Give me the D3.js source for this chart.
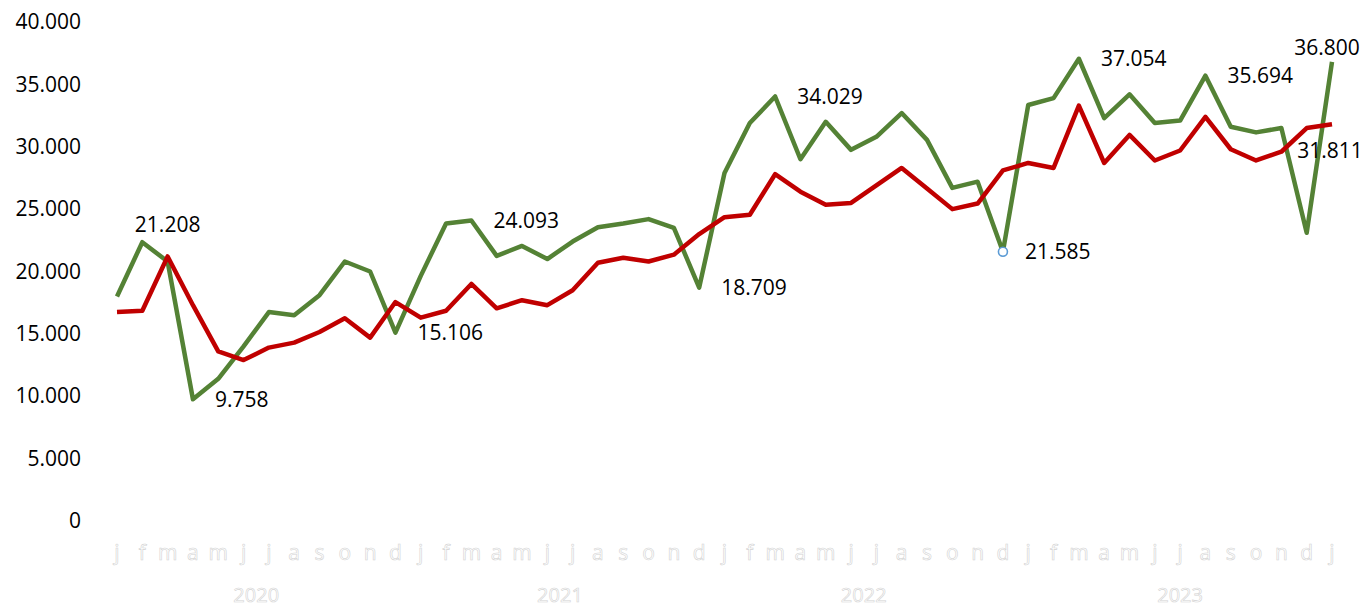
<!DOCTYPE html>
<html>
<head>
<meta charset="utf-8">
<script src="https://cdn.jsdelivr.net/npm/d3@7"></script>
<style>
  html, body { margin: 0; padding: 0; background: #fff; }
  svg { display: block; font-family: "Open Sans", sans-serif; }
</style>
</head>
<body>
<div id="chart"></div>
<script>
// month letters, one per point (jan 2020 .. jan 2024)
var months = ["j","f","m","a","m","j","j","a","s","o","n","d",
              "j","f","m","a","m","j","j","a","s","o","n","d",
              "j","f","m","a","m","j","j","a","s","o","n","d",
              "j","f","m","a","m","j","j","a","s","o","n","d",
              "j"];

// year groups: label, first index, last index
var years = [["2020", 0, 11], ["2021", 12, 23], ["2022", 24, 35], ["2023", 36, 48]];

var yTicks = [0, 5000, 10000, 15000, 20000, 25000, 30000, 35000, 40000];

// green series
var serieGroen = [18000, 22350, 20800, 9758, 11400, 14000, 16750, 16500, 18100, 20800, 20000, 15106,
                  19650, 23850, 24093, 21250, 22050, 21000, 22400, 23550, 23850, 24200, 23500, 18709,
                  27900, 31900, 34029, 29000, 32000, 29750, 30800, 32700, 30550, 26700, 27200, 21585,
                  33350, 33900, 37054, 32300, 34200, 31900, 32100, 35694, 31600, 31150, 31500, 23100,
                  36800];

// red series
var serieRood = [16750, 16850, 21208, 17300, 13600, 12900, 13900, 14300, 15150, 16250, 14700, 17550,
                 16300, 16850, 19000, 17050, 17700, 17300, 18500, 20700, 21100, 20800, 21350, 23000,
                 24350, 24550, 27800, 26400, 25350, 25500, 26900, 28300, 26650, 25000, 25450, 28100,
                 28700, 28300, 33300, 28700, 30950, 28900, 29700, 32400, 29800, 28900, 29600, 31500,
                 31811];

// labelled points: series, index, placement
var labels = [["rood", 2, "boven-ver"], ["groen", 3, "rechts"], ["groen", 11, "rechts"],
              ["groen", 14, "rechts"], ["groen", 23, "rechts"], ["groen", 26, "rechts"],
              ["groen", 35, "rechts"], ["groen", 38, "rechts"], ["groen", 43, "rechts"],
              ["groen", 48, "boven"], ["rood", 48, "onder"]];

// highlighted marker
var marker = ["groen", 35];

var width = 1366, height = 607;

var svg = d3.select("#chart").append("svg")
    .attr("width", width).attr("height", height);

var nl = d3.formatLocale({decimal: ",", thousands: ".", grouping: [3], currency: ["€", ""]});
var fmt = nl.format(",");

var x = d3.scaleLinear().domain([0, months.length - 1]).range([117, 1332]);
var y = d3.scaleLinear().domain([0, 40000]).range([521, 22]);

var series = {groen: serieGroen, rood: serieRood};
var colors = {groen: "#548235", rood: "#c00000"};

// y axis labels
var yAxis = d3.axisLeft(y).tickValues(yTicks).tickFormat(fmt).tickSize(0).tickPadding(0);
svg.append("g")
    .attr("transform", "translate(81,0)")
    .call(yAxis)
    .call(function (g) {
        g.select(".domain").remove();
        g.selectAll("text")
            .attr("font-family", "Open Sans")
            .attr("font-size", 21)
            .attr("fill", "#000");
    });

// month letters (outlined)
svg.append("g").selectAll("text")
    .data(months)
    .enter().append("text")
    .attr("x", function (d, i) { return x(i); })
    .attr("y", 553)
    .attr("dy", "0.35em")
    .attr("text-anchor", "middle")
    .attr("font-size", 21)
    .attr("fill", "#fff")
    .attr("stroke", "#d3d3d3")
    .attr("stroke-width", 0.6)
    .text(function (d) { return d; });

// year labels (outlined)
svg.append("g").selectAll("text")
    .data(years)
    .enter().append("text")
    .attr("x", function (d) { return (x(d[1]) + x(d[2])) / 2; })
    .attr("y", 595)
    .attr("dy", "0.35em")
    .attr("text-anchor", "middle")
    .attr("font-size", 20)
    .attr("fill", "#fff")
    .attr("stroke", "#d3d3d3")
    .attr("stroke-width", 0.6)
    .text(function (d) { return d[0]; });

// lines
var line = d3.line()
    .x(function (d, i) { return x(i); })
    .y(function (d) { return y(d); });

["groen", "rood"].forEach(function (key) {
    svg.append("path")
        .datum(series[key])
        .attr("d", line)
        .attr("fill", "none")
        .attr("stroke", colors[key])
        .attr("stroke-width", 4.5)
        .attr("stroke-linejoin", "round");
});

// marker
svg.append("circle")
    .attr("cx", x(marker[1]))
    .attr("cy", y(series[marker[0]][marker[1]]))
    .attr("r", 4.5)
    .attr("fill", "#fff")
    .attr("stroke", "#5b9bd5")
    .attr("stroke-width", 1.6);

// data labels
var placement = {
    "rechts":    {dx: 22, dy: 0, anchor: "start"},
    "boven":     {dx: -5, dy: -14, anchor: "middle"},
    "boven-ver": {dx: 0, dy: -32, anchor: "middle"},
    "onder":     {dx: -2, dy: 26, anchor: "middle"}
};

svg.append("g").selectAll("text")
    .data(labels)
    .enter().append("text")
    .attr("x", function (d) { return x(d[1]) + placement[d[2]].dx; })
    .attr("y", function (d) { return y(series[d[0]][d[1]]) + placement[d[2]].dy; })
    .attr("dy", "0.35em")
    .attr("text-anchor", function (d) { return placement[d[2]].anchor; })
    .attr("font-size", 21)
    .attr("fill", "#000")
    .text(function (d) { return fmt(series[d[0]][d[1]]); });
</script>
</body>
</html>
